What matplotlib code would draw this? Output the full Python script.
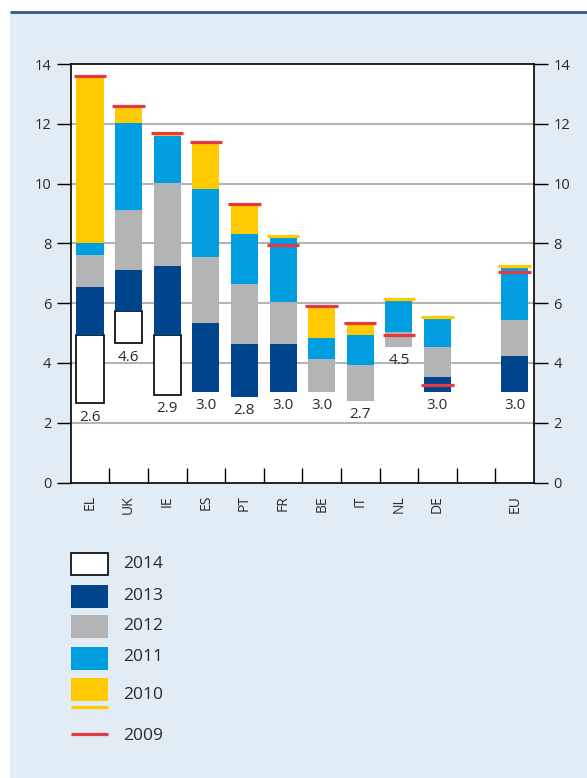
import numpy as np
import matplotlib
matplotlib.use('Agg')
import matplotlib.pyplot as plt
from matplotlib.patches import Rectangle

plt.rcParams['font.family'] = ['Open Sans', 'DejaVu Sans']

nan = np.nan
countries = ['EL', 'UK', 'IE', 'ES', 'PT', 'FR', 'BE', 'IT', 'NL', 'DE', 'EU']
xpos = [0, 1, 2, 3, 4, 5, 6, 7, 8, 9, 11]
low_labels = ['2.6', '4.6', '2.9', '3.0', '2.8', '3.0', '3.0', '2.7', '4.5', '3.0', '3.0']

# segment bottoms / tops per year (nan = no segment)
lo_2014 = [2.65, 4.65, 2.94, nan, nan, nan, nan, nan, nan, nan, nan]
hi_2014 = [4.93, 5.73, 4.93, nan, nan, nan, nan, nan, nan, nan, nan]
lo_2013 = [4.93, 5.73, 4.93, 3.04, 2.87, 3.04, nan, nan, nan, 3.04, 3.04]
hi_2013 = [6.55, 7.10, 7.24, 5.33, 4.63, 4.63, nan, nan, nan, 3.53, 4.23]
lo_2012 = [6.55, 7.10, 7.24, 5.33, 4.63, 4.63, 3.04, 2.74, 4.54, 3.53, 4.23]
hi_2012 = [7.62, 9.11, 10.03, 7.55, 6.64, 6.04, 4.13, 3.93, 5.02, 4.53, 5.43]
lo_2011 = [7.62, 9.11, 10.03, 7.55, 6.64, 6.04, 4.13, 3.93, 5.02, 4.53, 5.43]
hi_2011 = [8.02, 12.03, 11.60, 9.82, 8.32, 8.17, 4.83, 4.93, 6.07, 5.48, 7.16]
lo_2010 = [8.02, 12.03, 11.60, 9.82, 8.32, nan, 4.83, 4.93, nan, nan, nan]
hi_2010 = [13.60, 12.60, 11.70, 11.40, 9.30, nan, 5.90, 5.33, nan, nan, nan]
line_2010 = [nan, nan, nan, nan, nan, 8.24, nan, nan, 6.14, 5.55, 7.25]
line_2009 = [13.60, 12.60, 11.70, 11.40, 9.30, 7.93, 5.90, 5.33, 4.94, 3.26, 7.04]

C_BG = '#e1ecf4'
C_NAVY = '#00458b'
C_GREY = '#b3b4b6'
C_BLUE = '#009ee0'
C_YEL = '#ffcb00'
C_RED = '#e63a42'
C_TXT = '#2a2a2a'

fig = plt.figure(figsize=(5.87, 7.78), dpi=100)

# background panel with top rule
bg = fig.add_axes([0, 0, 1, 1])
bg.set_xlim(0, 587); bg.set_ylim(778, 0); bg.axis('off')
bg.add_patch(Rectangle((10, 12), 577, 766, facecolor=C_BG, edgecolor='none'))
bg.plot([10, 587], [12, 12], color='#2b5c8a', lw=2.0, solid_capstyle='butt')

ax = fig.add_axes([70.7 / 587, 1 - 482.5 / 778, (534 - 70.7) / 587, (482.5 - 64) / 778])
ax.set_facecolor('white')
ax.set_xlim(-0.5, 11.5)
ax.set_ylim(0, 14)

for y in range(2, 13, 2):
    ax.axhline(y, color='#b4b4b4', lw=1.5, zorder=0)

w = 0.7
x = np.array(xpos, dtype=float)
segs = [(lo_2014, hi_2014, 'white', 'black'), (lo_2013, hi_2013, C_NAVY, 'none'),
        (lo_2012, hi_2012, C_GREY, 'none'), (lo_2011, hi_2011, C_BLUE, 'none'),
        (lo_2010, hi_2010, C_YEL, 'none')]
for lo, hi, fc, ec in segs:
    lo = np.array(lo); hi = np.array(hi)
    ok = ~np.isnan(lo)
    ax.bar(x[ok], hi[ok] - lo[ok], bottom=lo[ok], width=w, color=fc,
           edgecolor=ec, linewidth=1.2 if ec != 'none' else 0, zorder=2)

lw_px = 3.2 * 72 / 100
ax.hlines(line_2010, x - 0.42, x + 0.42, color=C_YEL, lw=lw_px, zorder=3)
ax.hlines(line_2009, x - 0.42, x + 0.42, color=C_RED, lw=lw_px, zorder=4)

# value labels under each bar
bottoms = np.nanmin(np.vstack([lo_2014, lo_2013, lo_2012]), axis=0)
for xi, b, t in zip(x, bottoms, low_labels):
    ax.text(xi, b - 0.22, t, ha='center', va='top', fontsize=11, color=C_TXT, zorder=5)

ax.set_yticks(range(0, 15, 2))
ax.tick_params(axis='y', direction='out', length=10, width=1, colors='black',
               labelcolor=C_TXT, labelsize=10.5, left=True, right=True,
               labelleft=True, labelright=True, pad=4)
ax.set_xticks(np.arange(0.5, 11, 1.0))
ax.set_xticklabels([])
ax.tick_params(axis='x', direction='in', length=11, width=1, colors='black')
for xi, c in zip(x, countries):
    ax.text(xi, -0.42, c, rotation=90, ha='center', va='top', fontsize=10,
            color=C_TXT)
for s in ax.spines.values():
    s.set_color('black'); s.set_linewidth(1.2)

# legend
items = [('2014', 552.7, 575.3, 'white', 'black'), ('2013', 585, 607.7, C_NAVY, 'none'),
         ('2012', 615, 637.7, C_GREY, 'none'), ('2011', 647, 669.7, C_BLUE, 'none'),
         ('2010', 678, 700.7, C_YEL, 'none')]
tyc = [564, 595.7, 626, 657.3, 695]
for (lab, y0, y1, fc, ec), ty in zip(items, tyc):
    bg.add_patch(Rectangle((71, y0), 37, y1 - y0, facecolor=fc, edgecolor=ec,
                           lw=1.2 if ec != 'none' else 0))
    bg.text(123, ty, lab, fontsize=12.5, color=C_TXT, va='center', ha='left')
bg.plot([71, 108], [706.7, 706.7], color=C_YEL, lw=lw_px, solid_capstyle='butt')
bg.plot([71, 108], [733.7, 733.7], color=C_RED, lw=lw_px, solid_capstyle='butt')
bg.text(123, 735.7, '2009', fontsize=12.5, color=C_TXT, va='center', ha='left')

fig.savefig('out.png', dpi=100, facecolor='white')
